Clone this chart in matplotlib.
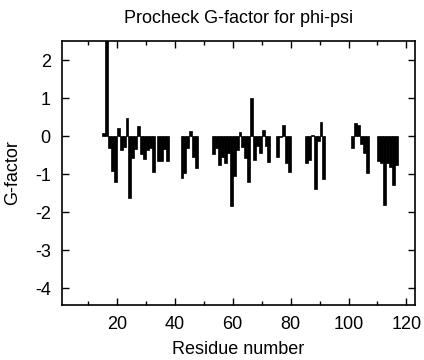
import matplotlib
matplotlib.use('Agg')
import matplotlib.pyplot as plt
from matplotlib.ticker import MultipleLocator

plt.rcParams['font.family'] = ['Liberation Sans', 'DejaVu Sans']
plt.rcParams['axes.unicode_minus'] = False

# Procheck G-factor (phi-psi) per residue
residues = [15, 16, 17, 18, 19, 20, 21, 22, 23, 24, 25, 26, 27, 28, 29, 30, 31, 32,
            34, 35, 36, 37,
            42, 43, 44, 45, 46, 47,
            53, 54, 55, 56, 57, 58, 59, 60, 61, 62, 63, 64, 65, 66, 67, 68, 69, 70, 71, 72,
            75, 76, 77, 78, 79,
            85, 86, 87, 88, 89, 90, 91,
            101, 102, 103, 104, 105, 106,
            110, 111, 112, 113, 114, 115, 116]
gfactor = [0.07, 3.0, -0.32, -0.92, -1.22, 0.22, -0.37, -0.28, 0.47, -1.62, -0.58, -0.35, 0.27, -0.47, -0.60, -0.37, -0.30, -0.95,
           -0.66, -0.65, -0.34, -0.65,
           -1.09, -0.96, -0.30, 0.14, -0.54, -0.83,
           -0.48, -0.30, -0.76, -0.54, -0.70, -0.45, -1.85, -1.05, -0.37, 0.10, -0.28, -0.58, -1.22, 1.01, -0.63, -0.26, -0.45, 0.17, -0.26, -0.67,
           -0.54, -0.03, 0.29, -0.70, -0.95,
           -0.72, -0.62, 0.04, -1.39, -0.12, 0.37, -1.13,
           -0.32, 0.35, 0.29, -0.20, -0.44, -0.98,
           -0.65, -0.72, -1.81, -0.72, -0.80, -1.28, -0.76]

fig = plt.figure(figsize=(4.24, 3.6), dpi=100)
ax = fig.add_subplot(111)
fig.subplots_adjust(left=0.146, right=0.979, top=0.886, bottom=0.153)

ax.bar(residues, gfactor, width=1.0, align='edge', color='black', edgecolor='black', linewidth=0.5)

ax.set_xlim(1, 123)
ax.set_ylim(-4.44, 2.5)
ax.xaxis.set_major_locator(MultipleLocator(20))
ax.xaxis.set_minor_locator(MultipleLocator(10))
ax.yaxis.set_major_locator(MultipleLocator(1))
ax.tick_params(which='both', direction='in', top=True, right=True, width=1)
ax.tick_params(which='major', length=5, labelsize=13, pad=8)
ax.tick_params(which='minor', length=3)
for s in ax.spines.values():
    s.set_linewidth(1.2)

ax.set_title('Procheck G-factor for phi-psi', fontsize=13, pad=13)
ax.set_xlabel('Residue number', fontsize=13, labelpad=6)
ax.set_ylabel('G-factor', fontsize=13, labelpad=10)

plt.savefig('out.png', dpi=100)
